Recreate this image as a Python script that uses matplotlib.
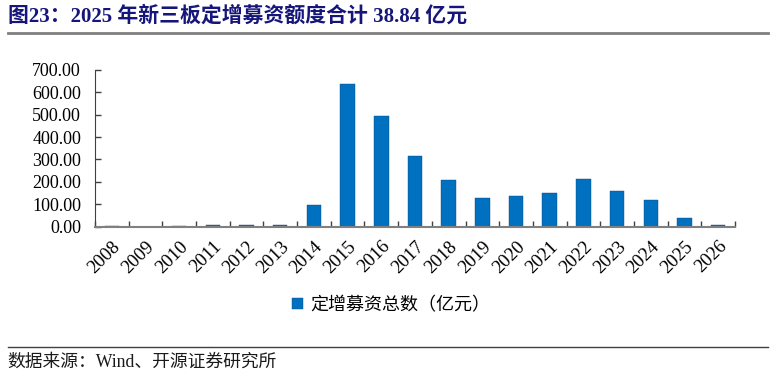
import matplotlib
matplotlib.use('Agg')
from matplotlib import pyplot as plt
from matplotlib.lines import Line2D
import numpy as np

# data
years = ['2008', '2009', '2010', '2011', '2012', '2013', '2014', '2015', '2016',
         '2017', '2018', '2019', '2020', '2021', '2022', '2023', '2024', '2025', '2026']
amount = [2, 0, 2, 6, 6, 8, 97, 638, 495, 317, 210, 128, 139, 152, 212, 158, 118, 38.84, 9]
yticks = [0, 100, 200, 300, 400, 500, 600, 700]

cjk = ['Liberation Serif', 'Noto Sans CJK SC']
sans = ['Noto Sans CJK SC', 'DejaVu Sans']

fig = plt.figure(figsize=(7.74, 3.77), dpi=100)
ax = fig.add_axes([0.1227, 0.3987, 0.8269, 0.4159])

x = np.arange(len(years))
ax.bar(x, amount, width=0.43, color='#0070C0', edgecolor='#0F4A80', linewidth=0.3,
       label='定增募资总数（亿元）')

ax.set_xlim(-0.5, len(years) - 0.5)
ax.set_ylim(0, 700)
ax.set_yticks(yticks)
ax.set_yticklabels(['%.2f' % v for v in yticks], family='Liberation Serif', fontsize=13)
ax.set_xticks(x)
ax.set_xticklabels(years, rotation=45, ha='right', rotation_mode='anchor',
                   family='Liberation Serif', fontsize=13.5)
ax.set_xticks(np.arange(len(years) + 1) - 0.5, minor=True)
ax.tick_params(axis='x', which='major', length=0, pad=8)
ax.tick_params(axis='x', which='minor', direction='in', length=4, width=1, color='#404040')
ax.tick_params(axis='y', direction='in', length=4, width=1, color='#404040', pad=10)

for s in ['top', 'right']:
    ax.spines[s].set_visible(False)
ax.spines['left'].set_color('#404040')
ax.spines['bottom'].set_color('#808080')
ax.spines['bottom'].set_linewidth(1.5)

fig.legend(loc='center', bbox_to_anchor=(0.505, 0.191), frameon=False,
           prop={'family': sans, 'size': 13}, handlelength=0.6, handleheight=0.6,
           handletextpad=0.4)

fig.text(0.010, 0.957, '图23：2025 年新三板定增募资额度合计 38.84 亿元', family=cjk,
         fontsize=15, fontweight='bold', color='#16167A', va='center')
fig.add_artist(Line2D([0.010, 0.992], [0.912, 0.912], color='#7F7F7F', lw=2))
fig.add_artist(Line2D([0.010, 0.992], [0.080, 0.080], color='#404040', lw=1))
fig.text(0.010, 0.040, '数据来源：Wind、开源证券研究所', family=cjk, fontsize=12.8,
         color='#1a1a1a', va='center')

fig.savefig('out.png', dpi=100)
